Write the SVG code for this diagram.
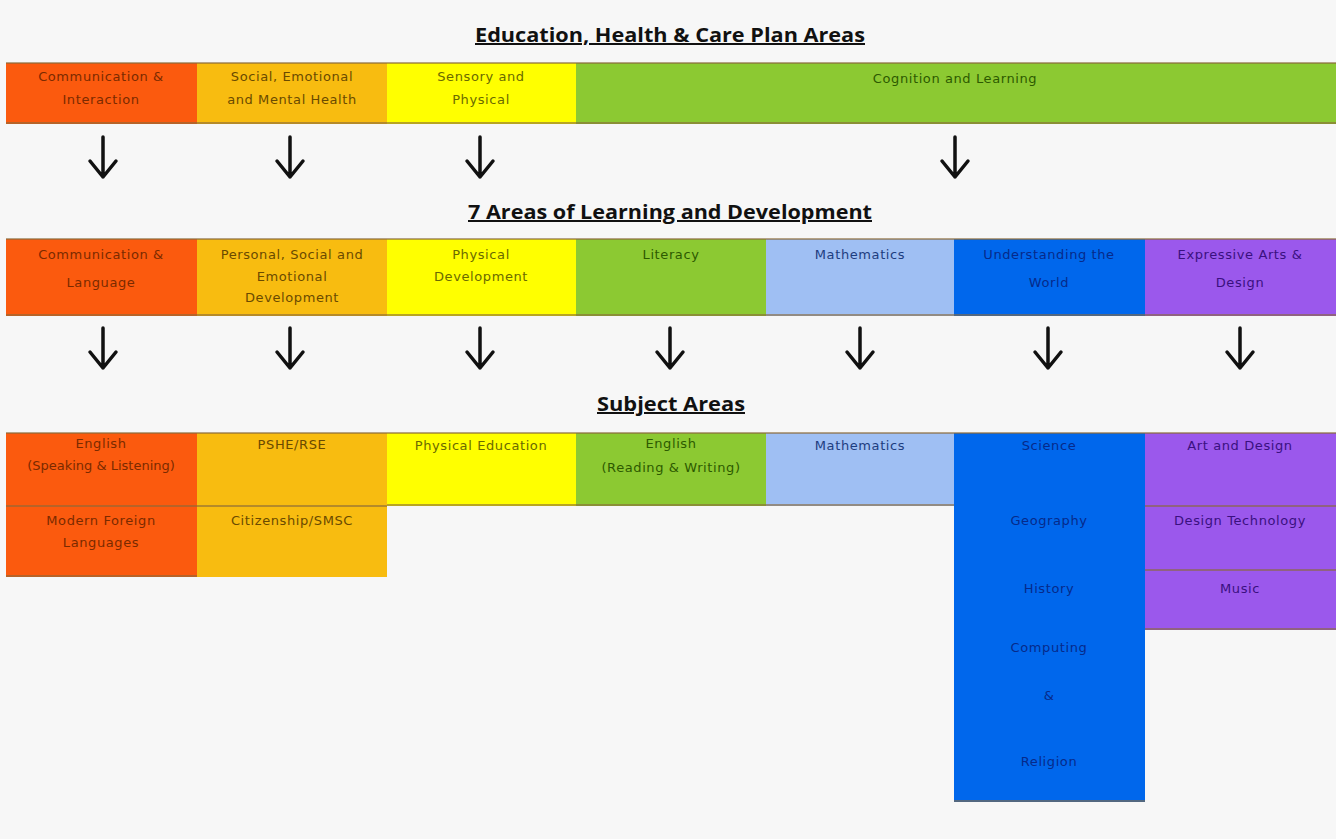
<svg xmlns="http://www.w3.org/2000/svg" width="1336" height="839" viewBox="0 0 1336 839">
<defs>
<style>
.t{font-family:"DejaVu Sans","Liberation Sans",sans-serif;font-size:13px;letter-spacing:0.6px;text-anchor:middle}
.h{font-family:"Open Sans","Liberation Sans",sans-serif;font-size:20px;font-weight:bold;text-anchor:middle;fill:#111;text-decoration:underline}
.arr{fill:none;stroke:#111;stroke-width:3.5;stroke-linecap:round;stroke-linejoin:round}
.or{fill:#FB5A0E}.lo{fill:#F8BC10}.ye{fill:#FFFF00}.gr{fill:#8CC932}.lb{fill:#9FBFF3}.bl{fill:#0067EC}.pu{fill:#9B58EC}
.edge{stroke:#8a6a3a;stroke-width:2;opacity:0.6}
.to{fill:#7a2a00}.tl{fill:#6a4a00}.ty{fill:#6a6a00}.tg{fill:#2d5a00}.tb{fill:#1d3d80}.tB{fill:#062a8a}.tp{fill:#3a1080}
</style>
</defs>
<rect width="1336" height="839" fill="#F7F7F7"/>

<text class="h" x="670" y="42" textLength="390" lengthAdjust="spacingAndGlyphs">Education, Health &amp; Care Plan Areas</text>
<text class="h" x="670" y="219" textLength="404" lengthAdjust="spacingAndGlyphs">7 Areas of Learning and Development</text>
<text class="h" x="671" y="411" textLength="148" lengthAdjust="spacingAndGlyphs">Subject Areas</text>

<g id="ehcp-ci"><rect class="or" x="6" y="63" width="191" height="61"/><text class="t to" x="101" y="81">Communication &amp;</text><text class="t to" x="101" y="104">Interaction</text></g>
<g id="ehcp-semh"><rect class="lo" x="197" y="63" width="190" height="61"/><text class="t tl" x="292" y="81">Social, Emotional</text><text class="t tl" x="292" y="104">and Mental Health</text></g>
<g id="ehcp-sp"><rect class="ye" x="387" y="63" width="189" height="61"/><text class="t ty" x="481" y="81">Sensory and</text><text class="t ty" x="481" y="104">Physical</text></g>
<g id="ehcp-cl"><rect class="gr" x="576" y="63" width="760" height="61"/><text class="t tg" x="955" y="83">Cognition and Learning</text></g>
<line class="edge" x1="6" y1="63" x2="1336" y2="63"/><line class="edge" x1="6" y1="123" x2="1336" y2="123"/>

<g id="eyfs-cl"><rect class="or" x="6" y="239" width="191" height="77"/><text class="t to" x="101" y="259">Communication &amp;</text><text class="t to" x="101" y="287">Language</text></g>
<g id="eyfs-psed"><rect class="lo" x="197" y="239" width="190" height="77"/><text class="t tl" x="292" y="259">Personal, Social and</text><text class="t tl" x="292" y="281">Emotional</text><text class="t tl" x="292" y="302">Development</text></g>
<g id="eyfs-pd"><rect class="ye" x="387" y="239" width="189" height="77"/><text class="t ty" x="481" y="259">Physical</text><text class="t ty" x="481" y="281">Development</text></g>
<g id="eyfs-lit"><rect class="gr" x="576" y="239" width="190" height="77"/><text class="t tg" x="671" y="259">Literacy</text></g>
<g id="eyfs-math"><rect class="lb" x="766" y="239" width="188" height="77"/><text class="t tb" x="860" y="259">Mathematics</text></g>
<g id="eyfs-utw"><rect class="bl" x="954" y="239" width="191" height="77"/><text class="t tB" x="1049" y="259">Understanding the</text><text class="t tB" x="1049" y="287">World</text></g>
<g id="eyfs-ead"><rect class="pu" x="1145" y="239" width="191" height="77"/><text class="t tp" x="1240" y="259">Expressive Arts &amp;</text><text class="t tp" x="1240" y="287">Design</text></g>
<line class="edge" x1="6" y1="239" x2="1336" y2="239"/><line class="edge" x1="6" y1="315" x2="1336" y2="315"/>

<g id="subj-col1"><rect class="or" x="6" y="433" width="191" height="144"/><line class="edge" x1="6" y1="506" x2="197" y2="506"/><line class="edge" x1="6" y1="576" x2="197" y2="576"/>
<text class="t to" x="101" y="448">English</text><text class="t to" x="101" y="470" style="letter-spacing:0">(Speaking &amp; Listening)</text>
<text class="t to" x="101" y="525">Modern Foreign</text><text class="t to" x="101" y="547">Languages</text></g>
<g id="subj-col2"><rect class="lo" x="197" y="433" width="190" height="144"/><line class="edge" x1="197" y1="506" x2="387" y2="506"/>
<text class="t tl" x="292" y="449">PSHE/RSE</text><text class="t tl" x="292" y="525">Citizenship/SMSC</text></g>
<g id="subj-pe"><rect class="ye" x="387" y="433" width="189" height="73"/><line class="edge" x1="387" y1="505" x2="576" y2="505"/><text class="t ty" x="481" y="450">Physical Education</text></g>
<g id="subj-eng"><rect class="gr" x="576" y="433" width="190" height="73"/><line class="edge" x1="576" y1="505" x2="766" y2="505"/><text class="t tg" x="671" y="448">English</text><text class="t tg" x="671" y="472">(Reading &amp; Writing)</text></g>
<g id="subj-math"><rect class="lb" x="766" y="433" width="188" height="73"/><line class="edge" x1="766" y1="505" x2="954" y2="505"/><text class="t tb" x="860" y="450">Mathematics</text></g>
<g id="subj-utw"><rect class="bl" x="954" y="433" width="191" height="369"/><line class="edge" x1="954" y1="801" x2="1145" y2="801"/>
<text class="t tB" x="1049" y="450">Science</text><text class="t tB" x="1049" y="525">Geography</text><text class="t tB" x="1049" y="593">History</text><text class="t tB" x="1049" y="652">Computing</text><text class="t tB" x="1049" y="700">&amp;</text><text class="t tB" x="1049" y="766">Religion</text></g>
<g id="subj-ead"><rect class="pu" x="1145" y="433" width="191" height="197"/><line class="edge" x1="1145" y1="506" x2="1336" y2="506"/><line class="edge" x1="1145" y1="570" x2="1336" y2="570"/><line class="edge" x1="1145" y1="629" x2="1336" y2="629"/>
<text class="t tp" x="1240" y="450">Art and Design</text><text class="t tp" x="1240" y="525">Design Technology</text><text class="t tp" x="1240" y="593">Music</text></g>
<line class="edge" x1="6" y1="433" x2="1336" y2="433"/>

<g id="connectors">
<path class="arr" d="M103 137V177M90 161L103 177L116 161"/>
<path class="arr" d="M290 137V177M277 161L290 177L303 161"/>
<path class="arr" d="M480 137V177M467 161L480 177L493 161"/>
<path class="arr" d="M955 137V177M942 161L955 177L968 161"/>
<path class="arr" d="M103 328V368M90 352L103 368L116 352"/>
<path class="arr" d="M290 328V368M277 352L290 368L303 352"/>
<path class="arr" d="M480 328V368M467 352L480 368L493 352"/>
<path class="arr" d="M670 328V368M657 352L670 368L683 352"/>
<path class="arr" d="M860 328V368M847 352L860 368L873 352"/>
<path class="arr" d="M1048 328V368M1035 352L1048 368L1061 352"/>
<path class="arr" d="M1240 328V368M1227 352L1240 368L1253 352"/>
</g>
</svg>
